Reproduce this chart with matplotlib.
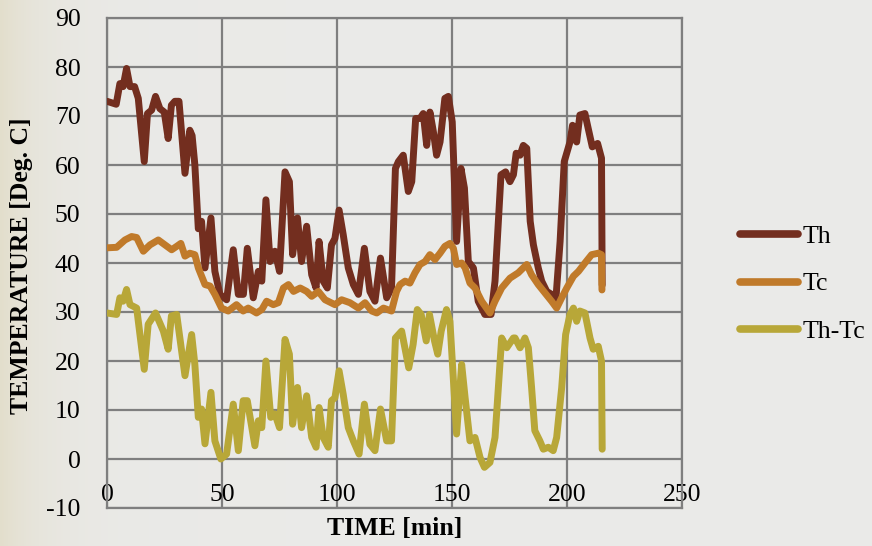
import numpy as np
import matplotlib
matplotlib.use("Agg")
import matplotlib.pyplot as plt

plt.rcParams["axes.unicode_minus"] = False

# ---------------- data ----------------
t_th = [0, 4, 5.6, 7, 8.5, 10, 12, 13.6, 16.2, 17.6, 19.4, 21.1, 23, 24.9, 26.6, 28, 29.5, 31.3,
        33.9, 36, 37, 38.2, 39.7, 41.1, 42.6, 45.2, 46.9, 49.1, 52, 54.9, 57.1, 59.3, 61, 63.6,
        65.8, 67.3, 69.1, 70.9, 73, 75, 77.4, 79.3, 80.7, 82.8, 84.6, 86.8, 89, 90.9, 92.2, 94,
        95.8, 97.6, 99.1, 100.9, 102.7, 104.9, 107.1, 109.3, 111.9, 114.3, 116.5, 118.9, 121.6,
        123.7, 125.4, 126.7, 128.8, 131, 132.5, 134.2, 136.1, 137.5, 139, 140.4, 141.9, 143.3,
        144.8, 146.9, 148.4, 150.1, 152, 153.9, 155.4, 157.1, 159.3, 161.4, 164.3, 167, 168.7,
        171.3, 173.3, 175.2, 176.7, 177.9, 179.6, 181, 182.5, 184, 185.4, 187.5, 189, 191.2,
        193.3, 195.1, 197, 198.8, 201.3, 202.4, 204.2, 205.6, 207.8, 209.2, 211, 213.3, 215, 215.3]
th = [73, 72.4, 76.6, 76, 79.7, 76, 76, 73.6, 60.7, 70.5, 71.2, 74, 71.5, 70.8, 65.4, 72.2, 73, 73,
      58.3, 67.1, 66, 60, 47, 48.5, 39, 49.2, 38.3, 33.6, 32.5, 42.7, 33.6, 33.6, 43, 32.9,
      38.3, 36.3, 52.9, 40.3, 42.4, 38.3, 58.6, 56.6, 41.7, 49.2, 40.3, 47.5, 37.6, 34.9, 44.4, 36.3,
      34.9, 43.7, 45, 50.8, 45.8, 39, 35.6, 33.6, 43, 34.2, 32.2, 41, 32.9,
      34.9, 59.3, 60.7, 62, 54.6, 56.6, 69.5, 69.5, 70.5, 64, 70.8, 66.8, 62,
      64.7, 73.6, 74, 68.8, 44.4, 59.3, 55.3, 40.3, 39, 32.2, 29.5, 29.5, 36.3,
      58, 58.6, 56.6, 58, 62.4, 62, 64, 63.4, 48.5, 43.7, 39, 36.3, 34.2,
      33.6, 32.2, 44.4, 60.7, 64.7, 68.1, 64.7, 70.2, 70.5, 67.5, 63.7, 64.4, 61.4, 35.5]

t_tc = [0, 4.2, 7.8, 10.7, 12.9, 15.8, 18.7, 22.3, 25.2, 28.1, 30.3, 32.1, 33.9, 36, 38.2, 39.7,
        42.6, 44.8, 46.9, 49.8, 52.7, 56.3, 59.2, 61.4, 65, 67.3, 69.4, 72.3, 74.5, 76.7, 78.9,
        81.1, 84, 86.8, 89, 91.9, 94.8, 99.1, 102, 105.6, 109.3, 112.2, 115.1, 117.3, 120.2,
        123.7, 125.9, 127.4, 129.6, 131.7, 133.9, 136.1, 138.3, 140.4, 142.6, 144.8, 146.9,
        149.1, 150.6, 152, 154.2, 155.7, 157.8, 160, 162.9, 166.5, 168.7, 171.6, 175.2, 178.8,
        182.5, 184.6, 187.5, 190.4, 193.3, 195.5, 197.7, 199.9, 202.8, 205, 207.8, 210.7,
        213.6, 215, 215.2]
tc = [43.1, 43.2, 44.7, 45.4, 45.2, 42.4, 43.7, 44.7, 43.7, 42.7, 43.4, 44, 41.4, 42, 41.7, 39,
      35.6, 35.3, 33.6, 30.8, 30.2, 31.5, 30.2, 30.8, 29.8, 30.5, 32.2, 31.5, 31.9, 34.9, 35.6,
      34.2, 34.9, 34.2, 33.2, 34.2, 32.5, 31.5, 32.5, 31.9, 30.8, 31.9, 30.2, 29.8, 30.8,
      30.2, 34.2, 35.6, 36.3, 35.9, 38, 39.7, 40.3, 41.7, 40.7, 42, 43.4,
      44, 43, 39.7, 40, 39, 35.9, 34.9, 32.2, 29.8, 32.2, 34.9, 36.9, 38,
      39.7, 37.6, 35.6, 33.9, 32.2, 30.8, 32.9, 34.9, 37.3, 38.3, 40, 41.7,
      42, 41.7, 34.5]

t_d = [0, 4.2, 5.6, 7, 8.5, 10, 12.9, 16.2, 17.9, 21.1, 24.5, 26.6, 28, 30.3, 33.9, 36.8, 38.2,
       39.7, 41.1, 42.6, 45.2, 46.9, 49.5, 52, 54.9, 57.1, 59.2, 61, 64.3, 65.8, 67.3, 69.1,
       71.2, 73, 75, 77.4, 79.3, 80.7, 82.8, 84.6, 86.8, 89, 90.9, 92.2, 94, 96.2, 97.6, 99.1,
       100.9, 102.7, 104.9, 107.1, 109.6, 111.9, 114.3, 116.5, 118.9, 121.6, 123.7, 125.4,
       128.1, 131.2, 133.1, 134.9, 136.6, 138.8, 140.2, 142.4, 143.8, 145.3, 147.6, 149.1,
       152, 154.2, 155.7, 157.8, 160, 162.2, 164.1, 166.5, 168.7, 171.6, 173.8, 176.7,
       177.4, 179.6, 181.7, 183.2, 184.6, 186, 188.2, 189.7, 191.9, 194, 195.5, 197.7, 199.4,
       201.3, 202.8, 204.2, 205.6, 207.8, 210, 211.4, 213.6, 215, 215.3]
d = [29.8, 29.5, 32.9, 32.2, 34.6, 31.5, 30.8, 18.3, 27.5, 29.8, 26.1, 22.4, 29.2, 29.5, 17, 25.4, 19.3,
     8.5, 10.2, 3.1, 13.6, 3.7, 0, 1, 11.2, 1.7, 11.9, 11.9, 2.7, 7.8, 6.4, 20,
     8.5, 9.2, 6.4, 24.4, 21.4, 7.1, 14.6, 6.4, 12.9, 4.4, 2.4, 10.5, 4.4, 2.4, 11.9, 12.5,
     18, 13.2, 6.4, 3.7, 1, 11.2, 3, 1.7, 10.2, 3.7, 3.7, 24.7,
     26.1, 18.6, 23.4, 30.5, 29.5, 24.1, 29.5, 24.1, 21.4, 26.1, 30.5, 28.1,
     5.1, 19.3, 12.5, 3.7, 4.4, 0.3, -1.7, -0.7, 4.4, 24.7, 22.7, 24.7,
     24.7, 22.7, 24.7, 22.7, 14.6, 5.8, 3.7, 2, 2.4, 1.7, 4.4, 14.6, 25.4,
     29.5, 30.8, 28.1, 30.2, 29.8, 24.7, 22.4, 23, 20, 2]

series_names = ["Th", "Tc", "Th-Tc"]
series_colors = ["#732E1F", "#C07A2A", "#B8A738"]
x_ticks = [0, 50, 100, 150, 200, 250]
y_ticks = [-10, 0, 10, 20, 30, 40, 50, 60, 70, 80, 90]

# ---------------- figure ----------------
W, H = 872, 546
fig = plt.figure(figsize=(W / 100, H / 100), dpi=100)

# textured background: light grey with a beige tint at the left edge
bg = fig.add_axes([0, 0, 1, 1], zorder=-10)
xx = np.linspace(0, 1, 400)[None, :]
yy = np.linspace(0, 1, 250)[:, None]
grey = np.array([0.918, 0.918, 0.910])
beige = np.array([0.89, 0.872, 0.80])
w = np.exp(-xx * W / 45.0) * np.ones_like(yy)
img = grey[None, None, :] * (1 - w[..., None]) + beige[None, None, :] * w[..., None]
bg.imshow(img, aspect="auto", extent=[0, 1, 0, 1])
bg.axis("off")

ax = fig.add_axes([107 / W, 1 - 508 / H, (682 - 107) / W, (508 - 18) / H])
ax.set_facecolor("none")

serif = ["Liberation Serif", "DejaVu Serif"]
grid_c = "#7F7F7F"
FS = 18.5

for (tx, ys), name, col in zip([(t_th, th), (t_tc, tc), (t_d, d)], series_names, series_colors):
    ax.plot(tx, ys, color=col, lw=5.0, solid_capstyle="round", solid_joinstyle="round",
            label=name, zorder=3)

ax.set_xlim(0, 250)
ax.set_ylim(-10, 90)
ax.set_xticks(x_ticks)
ax.set_yticks(y_ticks)
ax.grid(True, color=grid_c, lw=1.6, zorder=1)
ax.set_axisbelow(True)
for s in ax.spines.values():
    s.set_color(grid_c)
    s.set_linewidth(1.6)

ax.tick_params(axis="both", length=0, labelsize=FS)
ax.tick_params(axis="x", pad=-17)
ax.tick_params(axis="y", pad=19)
for lab in ax.get_xticklabels() + ax.get_yticklabels():
    lab.set_fontfamily(serif)

fig.text(394.5 / W, 1 - 529 / H, "TIME [min]", fontsize=FS, fontweight="bold", family=serif,
         ha="center", va="center")
fig.text(22 / W, 1 - 266 / H, "TEMPERATURE [Deg. C]", fontsize=FS, fontweight="bold",
         family=serif, ha="center", va="center", rotation=90)

leg = ax.legend(loc="center left", bbox_to_anchor=(740 / W, 1 - 284 / H),
                bbox_transform=fig.transFigure, frameon=False, borderpad=0, borderaxespad=0,
                prop={"family": serif, "size": FS}, handlelength=2.25, handletextpad=0.2,
                labelspacing=0.95)
for ln in leg.get_lines():
    ln.set_linewidth(5.5)
    ln.set_solid_capstyle("round")

fig.savefig("out.png", dpi=100)
